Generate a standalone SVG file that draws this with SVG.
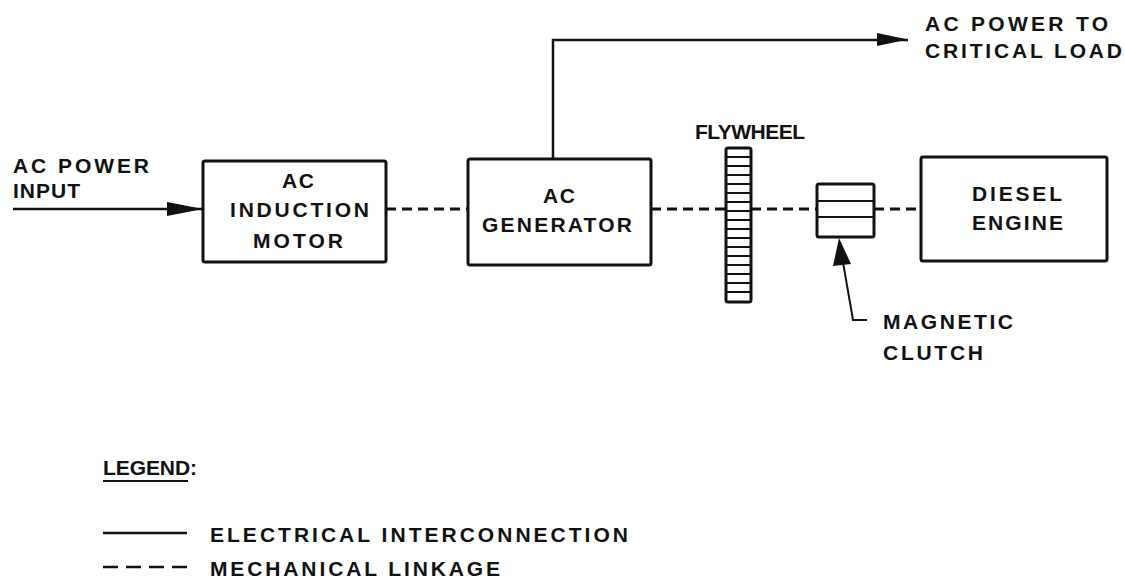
<svg xmlns="http://www.w3.org/2000/svg" width="1125" height="579" viewBox="0 0 1125 579">
<style>
text{font-family:"Liberation Sans",Arial,sans-serif;font-weight:bold;font-size:21px;fill:#111}
.box{fill:#fff;stroke:#111;stroke-width:3}
.el{fill:none;stroke:#111;stroke-width:2.5}
.mech{fill:none;stroke:#111;stroke-width:3;stroke-dasharray:10 6}
.thin{fill:none;stroke:#111;stroke-width:2}
</style>
<rect width="1125" height="579" fill="#fff"/>
<g id="connectors">
<path class="el" d="M13,209 H203"/>
<path d="M167,202 L203,209 L167,216 Z" fill="#111"/>
<path class="el" d="M553,159 V40 H908"/>
<path d="M877,33 L908,39.5 L877,46 Z" fill="#111"/>
<path class="mech" d="M386,209 H468"/>
<path class="mech" d="M651,209 H726"/>
<path class="mech" d="M751,209 H817"/>
<path class="mech" d="M874,209 H921"/>
<path class="thin" d="M840,245 L853,320 H867"/>
<path d="M839,238 L833,266 L851,264 Z" fill="#111"/>
</g>
<g id="input-label">
<text x="13" y="173" textLength="136" lengthAdjust="spacing">AC POWER</text>
<text x="13" y="198" textLength="67" lengthAdjust="spacing">INPUT</text>
</g>
<g id="motor">
<rect class="box" x="203" y="161" width="183" height="101" rx="2"/>
<text x="282" y="188" textLength="32" lengthAdjust="spacing">AC</text>
<text x="230" y="217" textLength="139" lengthAdjust="spacing">INDUCTION</text>
<text x="253" y="248" textLength="90" lengthAdjust="spacing">MOTOR</text>
</g>
<g id="generator">
<rect class="box" x="468" y="159" width="183" height="106" rx="2"/>
<text x="543" y="203" textLength="32" lengthAdjust="spacing">AC</text>
<text x="482" y="232" textLength="150" lengthAdjust="spacing">GENERATOR</text>
</g>
<g id="flywheel">
<text x="695" y="139" font-size="20" textLength="110" lengthAdjust="spacing">FLYWHEEL</text>
<rect class="box" x="726" y="148" width="25" height="154" rx="2"/>
<path class="thin" d="M726,157 H751 M726,166 H751 M726,175 H751 M726,184 H751 M726,193 H751 M726,202 H751 M726,211 H751 M726,220 H751 M726,229 H751 M726,238 H751 M726,247 H751 M726,256 H751 M726,265 H751 M726,274 H751 M726,283 H751 M726,292 H751"/>
</g>
<g id="clutch">
<rect class="box" x="817" y="184" width="57" height="53" rx="2"/>
<path class="thin" d="M817,201 H874 M817,217 H874"/>
<text x="883" y="329" textLength="130" lengthAdjust="spacing">MAGNETIC</text>
<text x="883" y="360" textLength="100" lengthAdjust="spacing">CLUTCH</text>
</g>
<g id="diesel">
<rect class="box" x="921" y="157" width="186" height="104" rx="2"/>
<text x="972" y="201" textLength="90" lengthAdjust="spacing">DIESEL</text>
<text x="972" y="230" textLength="91" lengthAdjust="spacing">ENGINE</text>
</g>
<g id="output-label">
<text x="925" y="31" textLength="183" lengthAdjust="spacing">AC POWER TO</text>
<text x="925" y="58" textLength="197" lengthAdjust="spacing">CRITICAL LOAD</text>
</g>
<g id="legend">
<text x="103" y="475" textLength="94" lengthAdjust="spacing">LEGEND:</text>
<path class="thin" d="M103,481 H188"/>
<path class="el" d="M103,533 H187"/>
<text x="210" y="542" textLength="418" lengthAdjust="spacing">ELECTRICAL INTERCONNECTION</text>
<path class="el" d="M103,567 H187" stroke-dasharray="15 8"/>
<text x="210" y="576" textLength="290" lengthAdjust="spacing">MECHANICAL LINKAGE</text>
</g>
</svg>
